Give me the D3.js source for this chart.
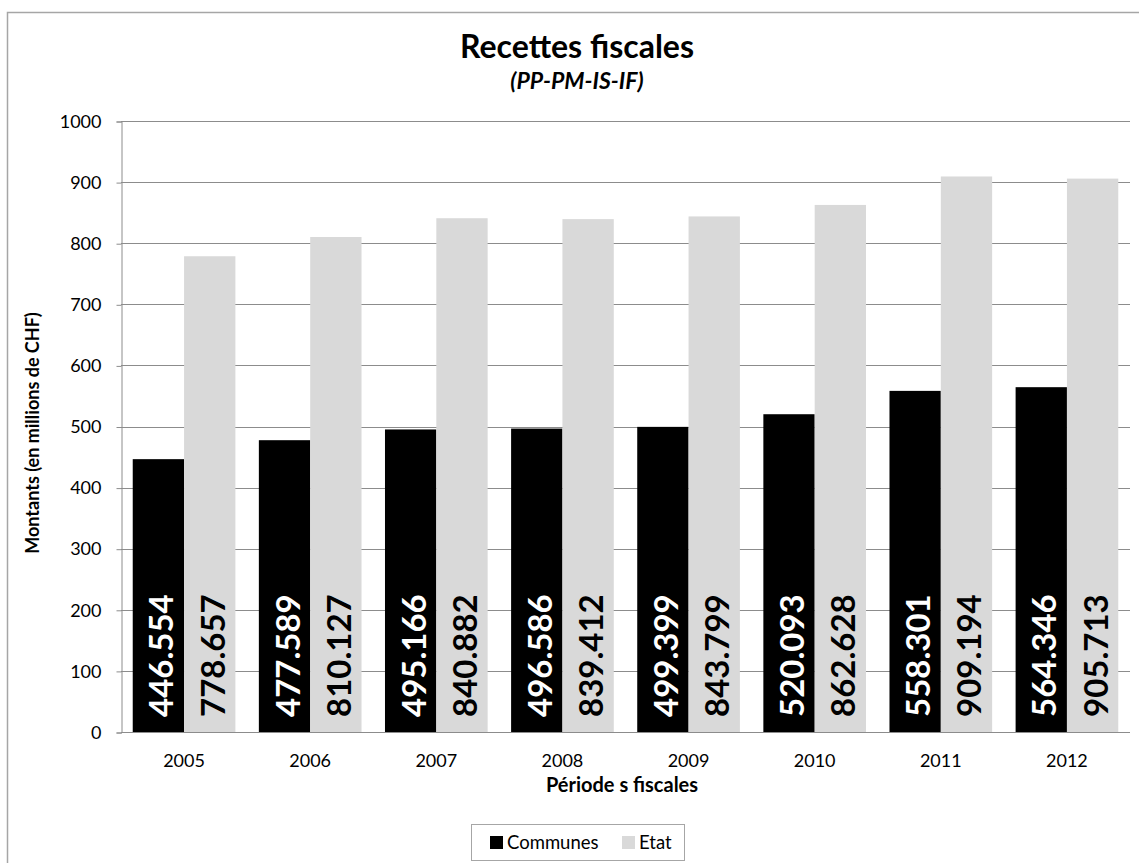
<!DOCTYPE html>
<html>
<head>
<meta charset="utf-8">
<script src="https://cdn.jsdelivr.net/npm/d3@7"></script>
<style>
  body { margin: 0; background: #fff; }
  text { font-family: Lato, "Open Sans", sans-serif; }
</style>
</head>
<body>
<svg width="1139" height="863"></svg>
<script>
const years = ['2005', '2006', '2007', '2008', '2009', '2010', '2011', '2012'];
const seriesNames = ['Communes', 'Etat'];
const communes = [446.554, 477.589, 495.166, 496.586, 499.399, 520.093, 558.301, 564.346];
const etat = [778.657, 810.127, 840.882, 839.412, 843.799, 862.628, 909.194, 905.713];
const yTicks = [0, 100, 200, 300, 400, 500, 600, 700, 800, 900, 1000];
const colors = ['#000000', '#d9d9d9'];
const labelColors = ['#ffffff', '#000000'];

const svg = d3.select('svg');

// outer chart frame (runs off the bottom/right edges)
svg.append('rect')
    .attr('x', 7.5).attr('y', 12.5)
    .attr('width', 1160).attr('height', 880)
    .attr('fill', 'none')
    .attr('stroke', '#a6a6a6')
    .attr('stroke-width', 1.5);

const plot = {left: 121, right: 1130, top: 121, bottom: 732};

const x = d3.scaleBand()
    .domain(years)
    .range([plot.left, plot.right])
    .paddingInner(0.186)
    .paddingOuter(0.093);

const xs = d3.scaleBand()
    .domain(seriesNames)
    .range([0, x.bandwidth()]);

const y = d3.scaleLinear()
    .domain([0, 1000])
    .range([plot.bottom, plot.top]);

// gridlines
svg.append('g')
    .selectAll('line')
    .data(yTicks.filter(d => d > 0))
    .enter().append('line')
      .attr('x1', plot.left).attr('x2', plot.right)
      .attr('y1', d => Math.round(y(d)) + 0.5)
      .attr('y2', d => Math.round(y(d)) + 0.5)
      .attr('stroke', '#8c8c8c')
      .attr('stroke-width', 1);

// y axis
const yAxis = svg.append('g')
    .attr('transform', `translate(${plot.left + 0.5},0.5)`)
    .call(d3.axisLeft(y).tickValues(yTicks).tickSize(5).tickPadding(15).tickFormat(d3.format('d')));
yAxis.select('.domain').attr('stroke', '#8c8c8c');
yAxis.selectAll('.tick line').attr('stroke', '#8c8c8c');
yAxis.selectAll('.tick text')
    .attr('font-family', 'Lato, "Open Sans", sans-serif')
    .attr('font-size', 18)
    .attr('fill', '#000');

// bars
const rows = years.map((yr, i) => ({year: yr, values: [communes[i], etat[i]]}));

const groups = svg.append('g')
    .selectAll('g')
    .data(rows)
    .enter().append('g')
      .attr('transform', d => `translate(${x(d.year)},0)`);

groups.selectAll('rect')
    .data(d => d.values.map((v, j) => ({name: seriesNames[j], value: v, j: j})))
    .enter().append('rect')
      .attr('x', d => xs(d.name))
      .attr('y', d => y(d.value))
      .attr('width', xs.bandwidth())
      .attr('height', d => y(0) - y(d.value))
      .attr('fill', d => colors[d.j]);

groups.selectAll('text')
    .data(d => d.values.map((v, j) => ({name: seriesNames[j], value: v, j: j})))
    .enter().append('text')
      .attr('transform', d => `translate(${xs(d.name) + xs.bandwidth() / 2 + 2},${y(0) - 15}) rotate(-90)`)
      .attr('dominant-baseline', 'central')
      .attr('font-weight', 'bold')
      .attr('font-size', 33)
      .attr('fill', d => labelColors[d.j])
      .text(d => d3.format('.3f')(d.value));

// x axis line
svg.append('line')
    .attr('x1', plot.left).attr('x2', plot.right)
    .attr('y1', plot.bottom + 0.5).attr('y2', plot.bottom + 0.5)
    .attr('stroke', '#8c8c8c');

svg.append('g')
    .selectAll('text')
    .data(years)
    .enter().append('text')
      .attr('x', d => x(d) + x.bandwidth() / 2)
      .attr('y', 767)
      .attr('text-anchor', 'middle')
      .attr('font-size', 18)
      .text(d => d);

// titles
svg.append('text')
    .attr('x', 577).attr('y', 58)
    .attr('text-anchor', 'middle')
    .attr('font-weight', 'bold')
    .attr('font-size', 32)
    .text('Recettes fiscales');

svg.append('text')
    .attr('x', 577).attr('y', 89)
    .attr('text-anchor', 'middle')
    .attr('font-weight', 'bold')
    .attr('font-style', 'italic')
    .attr('font-size', 23)
    .text('(PP-PM-IS-IF)');

svg.append('text')
    .attr('x', 622).attr('y', 792)
    .attr('text-anchor', 'middle')
    .attr('font-weight', 'bold')
    .attr('font-size', 20)
    .text('Période s fiscales');

svg.append('text')
    .attr('transform', 'translate(39,433) rotate(-90)')
    .attr('text-anchor', 'middle')
    .attr('font-weight', 'bold')
    .attr('font-size', 18)
    .text('Montants (en millions de CHF)');

// legend
const legend = svg.append('g');
legend.append('rect')
    .attr('x', 471.5).attr('y', 824.5)
    .attr('width', 213).attr('height', 36)
    .attr('fill', '#fff')
    .attr('stroke', '#a6a6a6');

const legendX = [490, 622];
seriesNames.forEach((name, i) => {
  legend.append('rect')
      .attr('x', legendX[i]).attr('y', 836)
      .attr('width', 13).attr('height', 13)
      .attr('fill', colors[i]);
  legend.append('text')
      .attr('x', legendX[i] + 17).attr('y', 849)
      .attr('font-size', 18.5)
      .text(name);
});
</script>
</body>
</html>
